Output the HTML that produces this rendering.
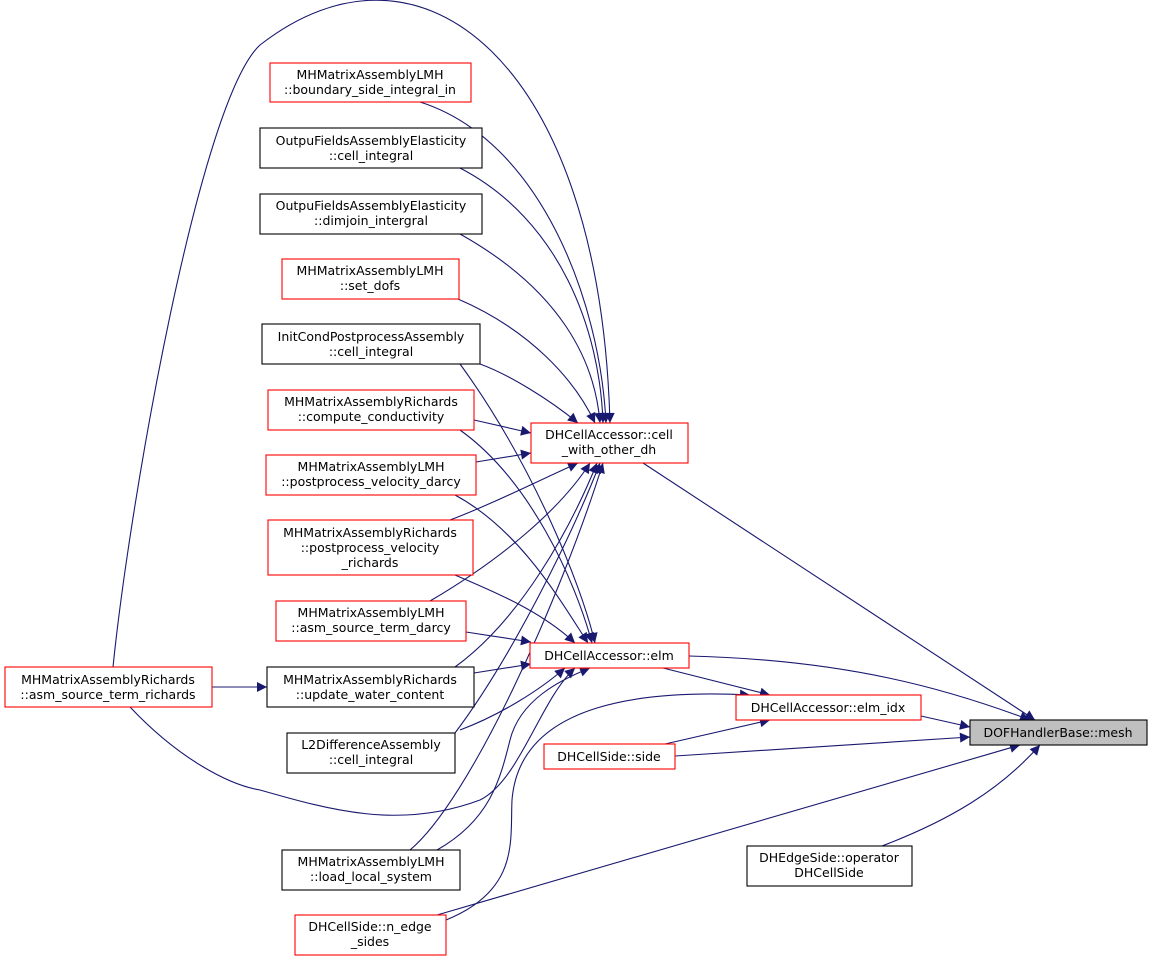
<!DOCTYPE html>
<html><head><meta charset="utf-8"><style>
body{margin:0;background:#fff;}
svg text{font-family:"DejaVu Sans","Liberation Sans",sans-serif;font-size:12.5px;fill:#000;text-anchor:middle;}
</style></head><body>
<svg width="1153" height="962" viewBox="0 0 1153 962" xmlns="http://www.w3.org/2000/svg">
<defs><marker id="a" viewBox="0 0 10 10" refX="10" refY="5" markerWidth="12" markerHeight="10" markerUnits="userSpaceOnUse" orient="auto"><path d="M0,0L10,5L0,10z" fill="#191970"/></marker></defs>
<g fill="none" stroke="#191970" stroke-width="1.1" marker-end="url(#a)">
<!-- to cell_with_other_dh -->
<path d="M113,667 C130,500 200,100 260,45 C420,-80 600,60 610,423"/>
<path d="M420,102 C540,140 600,300 606,423"/>
<path d="M460,168 C560,220 600,330 603,423"/>
<path d="M460,234 C560,290 595,360 600,423"/>
<path d="M458,299 C530,330 575,380 595,423"/>
<path d="M480,364 C510,375 550,400 578,423"/>
<path d="M474,420 L531,433"/>
<path d="M476,462 L531,453"/>
<path d="M450,520 C490,505 540,480 578,463"/>
<path d="M430,601 C500,560 560,510 590,463"/>
<path d="M455,667 C520,620 570,530 597,463"/>
<path d="M455,733 C510,660 570,540 600,463"/>
<path d="M410,850 C470,800 560,600 603,463"/>
<!-- to elm -->
<path d="M460,364 C530,460 580,580 595,643"/>
<path d="M460,430 C530,480 575,580 592,643"/>
<path d="M455,495 C520,530 560,600 588,643"/>
<path d="M455,575 C490,590 540,610 575,643"/>
<path d="M466,632 L531,642"/>
<path d="M474,673 L531,664"/>
<path d="M460,730 C500,715 540,690 565,668"/>
<path d="M130,707 C180,760 230,785 260,790 C330,810 400,830 480,800 C520,780 540,700 575,668"/>
<path d="M437,850 C490,820 500,780 510,740 C520,700 560,680 590,668"/>
<!-- to elm_idx / mesh -->
<path d="M663,668 L770,695"/>
<path d="M446,920 C520,890 510,840 512,800 C520,700 650,690 750,695"/>
<path d="M665,744 L770,720"/>
<path d="M643,463 L1035,720"/>
<path d="M689,656 C850,660 950,690 1030,720"/>
<path d="M921,716 L970,727"/>
<path d="M675,756 L970,737"/>
<path d="M437,915 L1020,745"/>
<path d="M882,846 C950,820 1000,790 1040,745"/>
<path d="M212,687 L267,687"/>
</g>
<g stroke-width="1.1">
<g fill="#fff" stroke="#ff0000">
<rect x="270" y="63" width="201" height="39"/>
<rect x="282" y="259" width="177" height="40"/>
<rect x="268" y="390" width="206" height="40"/>
<rect x="266" y="455" width="210" height="40"/>
<rect x="268" y="520" width="205" height="55"/>
<rect x="276" y="601" width="190" height="40"/>
<rect x="295" y="915" width="151" height="40"/>
<rect x="5" y="667" width="207" height="40"/>
<rect x="531" y="423" width="157" height="40"/>
<rect x="530" y="643" width="159" height="25"/>
<rect x="736" y="695" width="185" height="25"/>
<rect x="544" y="744" width="131" height="25"/>
</g>
<g fill="#fff" stroke="#000">
<rect x="260" y="128" width="222" height="40"/>
<rect x="260" y="194" width="222" height="40"/>
<rect x="262" y="324" width="218" height="40"/>
<rect x="267" y="667" width="207" height="40"/>
<rect x="287" y="733" width="168" height="40"/>
<rect x="282" y="850" width="178" height="40"/>
<rect x="747" y="846" width="165" height="40"/>
</g>
<rect x="970" y="720" width="177" height="25" fill="#bfbfbf" stroke="#000"/>
</g>
<text x="370" y="79">MHMatrixAssemblyLMH</text><text x="370" y="94">::boundary_side_integral_in</text>
<text x="371" y="145">OutpuFieldsAssemblyElasticity</text><text x="371" y="160">::cell_integral</text>
<text x="371" y="210">OutpuFieldsAssemblyElasticity</text><text x="371" y="225">::dimjoin_intergral</text>
<text x="370" y="275">MHMatrixAssemblyLMH</text><text x="370" y="290">::set_dofs</text>
<text x="371" y="341">InitCondPostprocessAssembly</text><text x="371" y="356">::cell_integral</text>
<text x="371" y="406">MHMatrixAssemblyRichards</text><text x="371" y="421">::compute_conductivity</text>
<text x="371" y="471">MHMatrixAssemblyLMH</text><text x="371" y="486">::postprocess_velocity_darcy</text>
<text x="370" y="537">MHMatrixAssemblyRichards</text><text x="370" y="552">::postprocess_velocity</text><text x="370" y="567">_richards</text>
<text x="371" y="617">MHMatrixAssemblyLMH</text><text x="371" y="632">::asm_source_term_darcy</text>
<text x="370" y="684">MHMatrixAssemblyRichards</text><text x="370" y="699">::update_water_content</text>
<text x="371" y="749">L2DifferenceAssembly</text><text x="371" y="764">::cell_integral</text>
<text x="371" y="866">MHMatrixAssemblyLMH</text><text x="371" y="881">::load_local_system</text>
<text x="370" y="931">DHCellSide::n_edge</text><text x="370" y="946">_sides</text>
<text x="108" y="684">MHMatrixAssemblyRichards</text><text x="108" y="699">::asm_source_term_richards</text>
<text x="609" y="439">DHCellAccessor::cell</text><text x="609" y="454">_with_other_dh</text>
<text x="609" y="660">DHCellAccessor::elm</text>
<text x="828" y="712">DHCellAccessor::elm_idx</text>
<text x="609" y="761">DHCellSide::side</text>
<text x="829" y="862">DHEdgeSide::operator</text><text x="829" y="877">DHCellSide</text>
<text x="1058" y="737">DOFHandlerBase::mesh</text>
</svg>
</body></html>
